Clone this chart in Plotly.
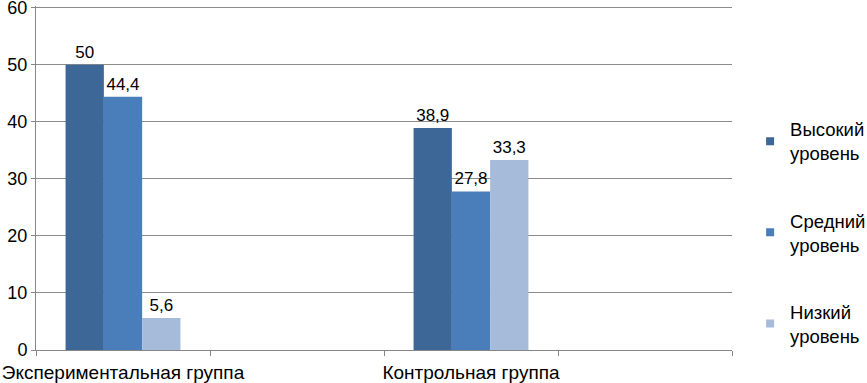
import plotly.graph_objects as go

categories = ["Экспериментальная группа", " ", "Контрольная группа", "  "]
series_names = ["Высокий<br>уровень", "Средний<br>уровень", "Низкий<br>уровень"]
high = [50, None, 38.9, None]
mid = [44.4, None, 27.8, None]
low = [5.6, None, 33.3, None]
labels_high = ["50", "", "38,9", ""]
labels_mid = ["44,4", "", "27,8", ""]
labels_low = ["5,6", "", "33,3", ""]
y_ticks = [0, 10, 20, 30, 40, 50, 60]
colors = ["#3D6797", "#4A7EBB", "#A6BAD9"]

font_family = "Liberation Sans, Arial, sans-serif"

fig = go.Figure()
for i, (name, vals, labs) in enumerate(zip(series_names,
                                          [high, mid, low],
                                          [labels_high, labels_mid, labels_low])):
    fig.add_trace(go.Bar(
        x=categories, y=vals, name=name,
        marker=dict(color=colors[i], line=dict(width=0)),
        text=labs, textposition="outside", cliponaxis=False,
        textfont=dict(size=17, color="black", family=font_family),
        showlegend=False,
    ))
    # legend-only marker
    fig.add_trace(go.Scatter(
        x=[None], y=[None], mode="markers", name=name,
        marker=dict(symbol="square", size=8, color=colors[i]),
        legendgroup=f"g{i}", showlegend=True,
    ))

fig.update_layout(
    width=867, height=383,
    margin=dict(l=36, r=135, t=6, b=33, autoexpand=False),
    paper_bgcolor="white", plot_bgcolor="white",
    barmode="group", bargap=0.34, bargroupgap=0,
    font=dict(family=font_family, size=18, color="black"),
    legend=dict(x=1.026, xanchor="left", y=0.341, yanchor="middle",
                traceorder="grouped", tracegroupgap=40,
                font=dict(size=18.5, color="black", family=font_family),
                itemwidth=30),
    xaxis=dict(
        type="category", showgrid=False, automargin=False, tickangle=0,
        showline=True, linecolor="#868686", linewidth=1,
        ticks="outside", tickson="boundaries", ticklen=5, tickcolor="#868686",
        tickfont=dict(size=19, color="black"), ticklabelstandoff=5,
    ),
    yaxis=dict(
        range=[0, 60.3], tickmode="array", tickvals=y_ticks,
        ticktext=[str(v) for v in y_ticks], ticklabeloverflow="allow",
        showgrid=True, gridcolor="#8C8C8C", gridwidth=1,
        showline=True, linecolor="#868686", linewidth=1, automargin=False,
        ticks="outside", ticklen=4, tickcolor="#868686",
        tickfont=dict(size=18, color="black"), zeroline=False,
    ),
)

fig.write_html("out.html", config={"displayModeBar": False},
               post_script="document.body.style.margin='0';document.body.style.overflow='hidden';")
